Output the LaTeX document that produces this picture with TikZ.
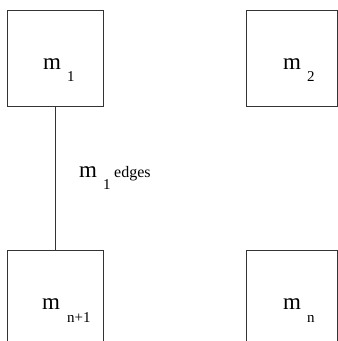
\documentclass[tikz,border=0pt]{standalone}
\usepackage{fontspec}
\setmainfont{Liberation Serif}
\begin{document}
\begin{tikzpicture}[x=1pt,y=1pt,
  box/.style={draw=black!80, line width=0.9pt, minimum width=96pt, minimum height=96pt, inner sep=0pt, outer sep=0pt},
  big/.style={font=\fontsize{23}{23}\selectfont, inner sep=0pt, anchor=base west},
  small/.style={font=\fontsize{15}{15}\selectfont, inner sep=0pt, anchor=base west},
  lbl/.style={font=\fontsize{16}{16}\selectfont, inner sep=0pt, anchor=base west}]
\useasboundingbox (0,0) rectangle (338,341);
\clip (0,0) rectangle (338,341);
\node[box] (b1) at (55,283) {};
\node[box, minimum width=91.5pt] (b2) at (291.75,283) {};
\node[box] (b3) at (55,43) {};
\node[box, minimum width=91.5pt] (b4) at (291.75,43) {};
\draw[draw=black!80, line width=0.9pt] (b1.south) -- (b3.north);
\node[big] (t1) at (43,271) {m};
\node[small] (s1) at (67,259) {1};
\node[big] (t2) at (283,271) {m};
\node[small] (s2) at (307,259) {2};
\node[big] (t3) at (42,31) {m};
\node[small] (s3) at (67,19) {n+1};
\node[big] (t4) at (283,31) {m};
\node[small] (s4) at (307,19) {n};
\node[big] (t5) at (79,164) {m};
\node[small] (s5) at (103,151) {1};
\node[lbl] (e5) at (114,164) {edges};
\end{tikzpicture}
\end{document}
